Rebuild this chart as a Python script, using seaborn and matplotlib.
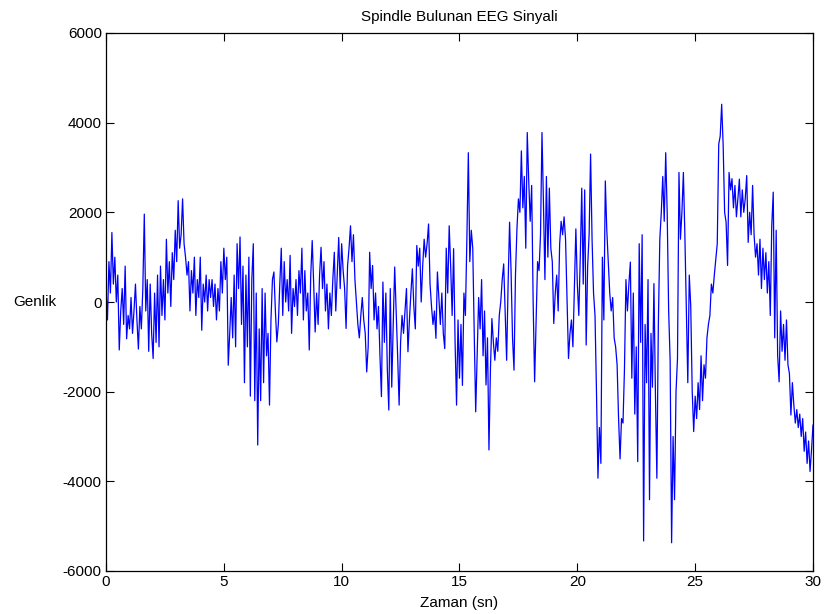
import numpy as np
import pandas as pd
import matplotlib
matplotlib.use("Agg")
import matplotlib.pyplot as plt
import seaborn as sns

# sampling step (s)
dt = 1.0 / 16

genlik_00_05 = [300, -400, 900, 200, 1550, 400, 1000, 0, 600, -1070, -200, 300, -500, 800, -820, -300,
                -600, 100, -700, -200, 400, -400, -1050, -100, -600, 300, 1960, -200, 500, -1100, 400, -700,
                -1260, 200, -900, 600, -1000, 800, -300, 500, -400, 1400, 200, 900, -100, 1100, 500, 1600,
                900, 2260, 1200, 1500, 2300, 1300, 1000, 600, 900, -200, 700, 200, 1000, -300, 500, 100,
                1000, -630, 400, 0, 600, -200, 500, 100, 500, -100, 400, -400, 300, -200, 900, 200]
genlik_05_10 = [1200, 500, 1000, -1410, -700, 100, -800, 600, -1000, 1300, 300, 1450, -500, 800, -1800, 600,
                -1000, 1000, -2100, 500, 1300, -2200, 200, -3190, -600, -2200, 300, -1800, 200, -1200, -700, -2300,
                -400, 500, 670, -200, -890, -500, 400, 1200, -300, 900, 0, 500, -200, 1040, -700, 300,
                -100, 500, -300, 700, 200, 1200, -400, 700, -200, 200, -1070, 600, 1370, 400, -670, 200,
                -500, 600, 1220, 300, 900, -200, 400, -600, 200, -300, 500, 1110, -200, 600, 1440, 300]
genlik_10_15 = [1300, 700, 300, -590, 800, 1200, 1700, 900, 1500, 500, 0, -500, -800, -300, 100, -400,
                -700, -1560, -1000, 1110, 300, 815, -400, 200, -600, -100, -1200, -2110, 445, -900, 200, -1500,
                -2410, 300, -1900, -500, 780, -200, -1200, -2300, -900, -300, -700, -200, 300, -1110, -400, 200,
                740, -100, -600, 1260, 800, 1200, 0, 800, 1400, 1000, 1300, 1740, 400, -100, -500, -200,
                -810, 670, 100, -500, 200, -700, -1040, 1200, 200, 1700, 800, -300, 1190, -900, -2300, -400]
genlik_15_20 = [-1700, -500, -1860, 200, -300, 1400, 3330, 900, 1600, 1200, -700, -2450, -1200, 100, -600, 500,
                -1200, -200, -1850, -800, -3300, -1500, -370, -900, -1300, -800, -1100, -300, 0, 500, 850, -200,
                -1300, 400, 1780, 700, -800, -1520, 600, 1630, 2300, 2000, 3370, 2100, 2800, 1200, 3780, 2700,
                1800, 2600, 0, -1780, -400, 900, 700, 1500, 3780, 2200, 500, 2800, 1000, 2540, 1200, 900,
                -480, 200, 600, -200, 1300, 1800, 1500, 1900, 1400, 100, -1260, -700, -400, -1000, 300, 1630]
genlik_20_25 = [400, -300, 1000, 2540, 400, 2500, -960, 800, 1500, 3300, 1400, 200, -300, -2000, -3930, -2800,
                -3600, 1000, -400, 2700, 1600, 900, 200, -200, 100, -800, -1000, -1400, -2600, -3500, -2600, -2700,
                -1500, 500, -200, 400, 890, -1700, 200, -2500, -1000, -3560, 1300, -900, 1500, -5330, -500, -1800,
                500, -4410, -700, -1900, 410, -2000, -3930, -500, 1400, 2000, 2800, 1800, 3330, 2000, -200, -1300,
                -5370, -3000, -4410, -2000, -1260, 2890, 1400, 2000, 2890, 1500, -200, -1800, 600, -100, -2000, -2890]
genlik_25_30 = [-2100, -2600, -1800, -2400, -1200, -2200, -1400, -1700, -800, -500, -300, 400, 200, 600, 960, 1300,
                3520, 3700, 4410, 3500, 2000, 1780, 815, 2890, 2500, 2750, 2100, 2600, 1900, 2300, 2740, 1900,
                2500, 2000, 2300, 2820, 1330, 2000, 1500, 2600, 1500, 1000, 1300, 600, 1400, 300, 1200, 500,
                1100, 200, 900, -300, 1700, 2450, -800, 1600, -1200, -1780, -200, -1100, -500, -1300, -400, -1400,
                -1600, -2520, -1800, -2300, -2700, -2400, -2800, -2500, -3000, -2600, -3330, -2900, -3600, -3100, -3780, -3300,
                -2740]

x_ticks = [0, 5, 10, 15, 20, 25, 30]
y_ticks = [-6000, -4000, -2000, 0, 2000, 4000, 6000]

genlik = np.array(genlik_00_05 + genlik_05_10 + genlik_10_15 + genlik_15_20 + genlik_20_25 + genlik_25_30, dtype=float)
zaman = np.arange(len(genlik)) * dt
df = pd.DataFrame({"Zaman": zaman, "Genlik": genlik})

sns.set_theme(style="ticks")
plt.rcParams["font.family"] = ["Liberation Sans", "DejaVu Sans"]
plt.rcParams["text.color"] = "black"
plt.rcParams["axes.labelcolor"] = "black"

fig = plt.figure(figsize=(8.25, 6.14), dpi=100)
ax = fig.add_axes([106 / 825, 1 - 571 / 614, (813 - 106) / 825, (571 - 33) / 614])
sns.lineplot(data=df, x="Zaman", y="Genlik", ax=ax, color=(0, 0, 1), linewidth=0.9,
             estimator=None, sort=False)

ax.set_xlim(0, 30)
ax.set_ylim(-6000, 6000)
ax.set_xticks(x_ticks)
ax.set_yticks(y_ticks)
ax.set_xticklabels([str(v) for v in x_ticks], fontsize=11)
ax.set_yticklabels([str(v) for v in y_ticks], fontsize=11)
ax.tick_params(direction="in", length=6, width=0.8, top=True, right=True, colors="black", pad=3)
for s in ax.spines.values():
    s.set_visible(True)
    s.set_color("black")
    s.set_linewidth(0.9)

ax.set_title("Spindle Bulunan EEG Sinyali", fontsize=11, pad=9, color="black")
ax.set_xlabel("Zaman (sn)", fontsize=11, labelpad=5, color="black")
ax.set_ylabel("Genlik", fontsize=11, rotation=0, labelpad=20, va="center", color="black")

fig.savefig("out.png", dpi=100, facecolor="white")
